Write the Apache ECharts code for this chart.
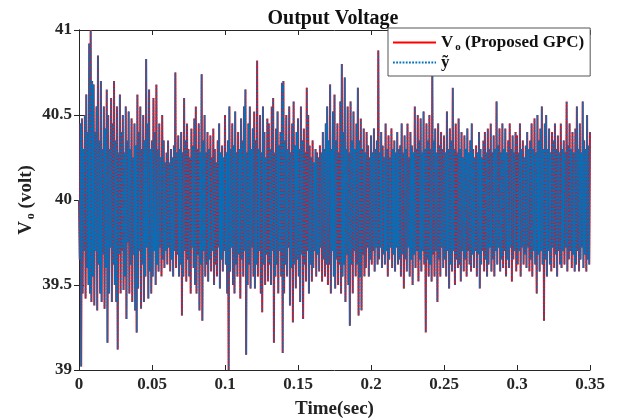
<!DOCTYPE html>
<html>
<head>
<meta charset="utf-8">
<script src="https://cdn.jsdelivr.net/npm/echarts@6/dist/echarts.min.js"></script>
<style>html,body{margin:0;padding:0;background:#fff}#c{width:619px;height:419px}</style>
</head>
<body>
<div id="c"></div>
<script>
// Sample step of the recorded signal (s)
const sampleStep = 0.0005;
// Output voltage Vo (Proposed GPC); one row = 10 ms
const vo = [
40.00,39.65,40.45,39.02,40.48,39.45,40.30,39.70,40.50,39.42,40.62,39.60,40.40,39.50,40.92,39.45,41.00,39.40,40.70,39.55,
40.68,39.38,40.40,39.70,40.55,39.35,40.85,39.62,40.35,39.45,40.70,39.40,40.30,39.68,40.55,39.36,40.42,39.60,40.65,39.16,
40.50,39.45,40.30,39.72,40.60,39.40,40.45,39.62,40.70,39.50,40.35,39.40,40.55,39.12,40.28,39.68,40.62,39.45,40.40,39.70,
40.50,39.47,40.28,39.55,40.55,39.30,40.35,39.75,40.52,39.45,40.30,39.62,40.48,39.40,40.25,39.68,40.45,39.35,40.32,39.22,
40.62,39.48,40.40,39.70,40.55,39.36,40.30,39.62,40.50,39.40,40.35,39.55,40.83,39.72,40.45,39.42,40.65,39.58,40.30,39.45,
40.35,39.55,40.60,39.70,40.40,39.50,40.68,39.62,40.30,39.58,40.45,39.72,40.25,39.55,40.50,39.65,40.35,39.60,40.22,39.70,
40.28,39.62,40.35,39.72,40.22,39.58,40.30,39.65,40.25,39.55,40.32,39.70,40.75,39.60,40.28,39.68,40.38,39.55,40.30,39.62,
40.40,39.32,40.28,39.55,40.60,39.70,40.35,39.52,40.45,39.65,40.30,39.55,40.25,39.45,40.42,39.72,40.32,39.60,40.48,39.50,
40.55,39.45,40.30,39.68,40.45,39.35,40.28,39.62,40.74,39.29,40.35,39.70,40.50,39.55,40.28,39.62,40.40,39.52,40.30,39.65,
40.38,39.58,40.25,39.70,40.42,39.50,40.30,39.62,40.22,39.55,40.35,39.72,40.45,39.48,40.28,39.65,40.32,39.58,40.25,39.70,
40.50,39.62,40.28,39.45,40.35,39.00,40.55,39.58,40.30,39.72,40.45,39.50,40.32,39.45,40.52,39.62,40.28,39.55,40.40,39.68,
40.30,39.42,40.48,39.65,40.35,39.55,40.55,39.70,40.65,39.09,40.28,39.50,40.45,39.62,40.55,39.48,40.30,39.72,40.42,39.55,
40.52,39.48,40.35,39.62,40.82,39.55,40.30,39.70,40.50,39.45,40.28,39.34,40.55,39.62,40.40,39.50,40.25,39.68,40.48,39.52,
40.45,39.62,40.30,39.50,40.55,39.70,40.60,39.16,40.28,39.55,40.42,39.62,40.52,39.45,40.32,39.70,40.40,39.55,40.69,39.10,
40.70,39.45,40.35,39.62,40.50,39.55,40.30,39.72,40.55,39.38,40.28,39.60,40.45,39.28,40.58,39.62,40.32,39.48,40.40,39.65,
40.48,39.55,40.30,39.40,40.55,39.68,40.35,39.30,40.42,39.62,40.28,39.52,40.66,39.70,40.50,39.45,40.32,39.62,40.25,39.52,
40.35,39.60,40.22,39.70,40.30,39.55,40.28,39.68,40.25,39.58,40.32,39.72,40.28,39.52,40.40,39.65,40.30,39.55,40.45,39.62,
40.55,39.50,40.35,39.62,40.68,39.45,40.30,39.70,40.52,39.55,40.62,39.48,40.35,39.65,40.45,39.50,40.28,39.62,40.58,39.45,
40.80,39.55,40.40,39.62,40.72,39.40,40.30,39.68,40.55,39.50,40.28,39.26,40.58,39.62,40.35,39.45,40.52,39.70,40.30,39.55,
40.45,39.62,40.66,39.32,40.35,39.55,40.48,39.35,40.30,39.68,40.42,39.55,40.28,39.60,40.40,39.72,40.32,39.55,40.25,39.65,
40.38,39.62,40.28,39.70,40.42,39.58,40.30,39.72,40.35,39.62,40.88,39.65,40.28,39.72,40.40,39.60,40.32,39.68,40.25,39.62,
40.45,39.70,40.30,39.55,40.38,39.65,40.25,39.72,40.42,39.60,40.30,39.68,40.35,39.58,40.28,39.72,40.40,39.62,40.30,39.65,
40.32,39.55,40.45,39.68,40.28,39.48,40.38,39.65,40.30,39.58,40.45,39.72,40.25,39.55,40.40,39.65,40.32,39.50,40.28,39.68,
40.55,39.60,40.30,39.70,40.50,39.52,40.35,39.65,40.48,39.58,40.28,39.70,40.52,39.62,40.30,39.22,40.45,39.65,40.35,39.55,
40.50,39.62,40.30,39.52,40.74,39.68,40.35,39.55,40.42,39.70,40.28,39.40,40.45,39.65,40.32,39.55,40.40,39.72,40.30,39.60,
40.38,39.65,40.28,39.55,40.52,39.70,40.30,39.48,40.42,39.62,40.35,39.58,40.66,39.70,40.30,39.50,40.45,39.65,40.28,39.60,
40.48,39.62,40.30,39.52,40.40,39.70,40.25,39.58,40.38,39.65,40.30,39.55,40.42,39.70,40.28,39.62,40.35,39.58,40.45,39.68,
40.30,39.60,40.25,39.70,40.32,39.55,40.28,39.68,40.40,39.48,40.30,39.62,40.25,39.70,40.35,39.58,40.40,39.65,40.28,39.55,
40.42,39.62,40.30,39.72,40.45,39.58,40.28,39.65,40.38,39.55,40.30,39.70,40.58,39.62,40.32,39.72,40.42,39.58,40.28,39.65,
40.45,39.60,40.30,39.70,40.42,39.55,40.28,39.65,40.35,39.60,40.45,39.72,40.30,39.52,40.38,39.65,40.28,39.70,40.40,39.58,
40.38,39.62,40.28,39.70,40.45,39.55,40.30,39.72,40.35,39.62,40.25,39.68,40.32,39.60,40.40,39.72,40.30,39.58,40.35,39.65,
40.45,39.55,40.30,39.70,40.48,39.62,40.28,39.45,40.50,39.68,40.35,39.58,40.42,39.70,40.55,39.62,40.30,39.29,40.45,39.65,
40.50,39.55,40.30,39.70,40.42,39.62,40.28,39.58,40.40,39.72,40.35,39.60,40.45,39.68,40.30,39.55,40.38,39.70,40.28,39.62,
40.45,39.60,40.30,39.70,40.35,39.62,40.28,39.72,40.58,39.58,40.32,39.65,40.45,39.70,40.30,39.60,40.40,39.68,40.28,39.58,
40.42,39.62,40.55,39.70,40.30,39.58,40.45,39.65,40.28,39.72,40.58,39.60,40.35,39.68,40.30,39.58,40.50,39.65,40.32,39.62,
40.40
];
// Estimated output y~ (tracks Vo, overlapping it in the picture)
const yTilde = vo.slice();
const xTicks = [0, 0.05, 0.1, 0.15, 0.2, 0.25, 0.3, 0.35];
const yTicks = [39, 39.5, 40, 40.5, 41];

const time = vo.map((_, i) => +(i * sampleStep).toFixed(5));
const voData = vo.map((v, i) => [time[i], v]);
const ytData = yTilde.map((v, i) => [time[i], v]);

const FONT = 'Liberation Serif';
const INK = '#262626';
const chart = echarts.init(document.getElementById('c'));
const axisCommon = {
  axisLine: { show: true, lineStyle: { color: INK, width: 1 } },
  axisTick: { show: true, inside: true, length: 5, lineStyle: { color: INK } },
  splitLine: { show: false }
};
chart.setOption({
  animation: false,
  backgroundColor: '#fff',
  title: {
    text: 'Output Voltage', left: 328, top: 4, textAlign: 'center',
    textStyle: { fontFamily: FONT, fontWeight: 'bold', fontSize: 20, color: '#111' }
  },
  legend: {
    orient: 'vertical', left: 388, top: 28, itemWidth: 43, itemHeight: 12, itemGap: 1,
    padding: [6, 6, 5, 4],
    backgroundColor: '#fff', borderColor: '#555', borderWidth: 1,
    data: ['Vo', 'yt'],
    itemStyle: { opacity: 0 },
    formatter: n => n === 'Vo' ? '{a|V}{b|o}{a| (Proposed GPC)}' : '{a|ỹ}',
    textStyle: {
      rich: {
        a: { fontFamily: FONT, fontWeight: 'bold', fontSize: 17, color: '#111' },
        b: { fontFamily: FONT, fontWeight: 'bold', fontSize: 11, color: '#111', padding: [10, 0, 0, 2] }
      }
    }
  },
  grid: { left: 79, right: 29, top: 30, bottom: 49, outerBoundsMode: 'none', containLabel: false },
  xAxis: [
    Object.assign({
      type: 'value', min: 0, max: 0.35, interval: 0.05,
      name: 'Time(sec)', nameLocation: 'middle', nameGap: 30,
      nameTextStyle: { fontFamily: FONT, fontWeight: 'bold', fontSize: 19, color: '#222' },
      axisLabel: { fontFamily: FONT, fontWeight: 'bold', fontSize: 17, color: INK, margin: 6,
        formatter: v => String(+v.toFixed(2)) }
    }, axisCommon),
    Object.assign({
      type: 'value', min: 0, max: 0.35, interval: 0.05, position: 'top',
      axisLabel: { show: false }
    }, axisCommon)
  ],
  yAxis: [
    Object.assign({
      type: 'value', min: 39, max: 41, interval: 0.5,
      name: '{a|V}{b|o}{a| (volt)}', nameLocation: 'middle', nameGap: 42, nameRotate: 90,
      nameMoveOverlap: false,
      nameTextStyle: {
        rich: {
          a: { fontFamily: FONT, fontWeight: 'bold', fontSize: 19, color: '#222' },
          b: { fontFamily: FONT, fontWeight: 'bold', fontSize: 12, color: '#222', padding: [10, 0, 0, 2] }
        }
      },
      axisLabel: { fontFamily: FONT, fontWeight: 'bold', fontSize: 17, color: INK, margin: 7 }
    }, axisCommon),
    Object.assign({
      type: 'value', min: 39, max: 41, interval: 0.5, position: 'right',
      axisLabel: { show: false }
    }, axisCommon)
  ],
  series: [
    {
      name: 'Vo', type: 'line', data: voData, symbol: 'none', showSymbol: false, xAxisIndex: 0, yAxisIndex: 0,
      lineStyle: { color: '#ff0000', width: 2 }, itemStyle: { color: '#ff0000' }, z: 2
    },
    {
      name: 'yt', type: 'line', data: ytData, symbol: 'none', showSymbol: false, xAxisIndex: 0, yAxisIndex: 0,
      lineStyle: { color: '#0072BD', width: 1.5, type: [1.8, 1.4] }, itemStyle: { color: '#0072BD' }, z: 3
    }
  ]
});
</script>
</body>
</html>
